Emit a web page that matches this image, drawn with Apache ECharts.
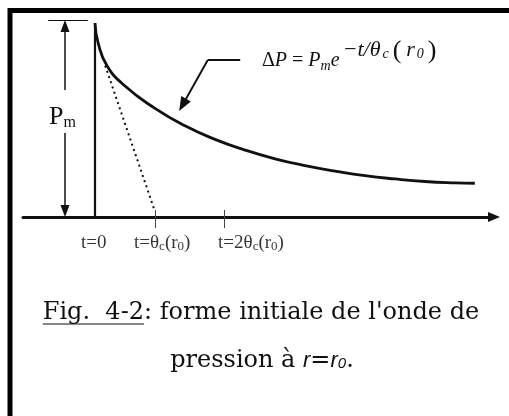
<!DOCTYPE html>
<html>
<head>
<meta charset="utf-8">
<script src="https://cdn.jsdelivr.net/npm/echarts@6/dist/echarts.min.js"></script>
<style>
  html, body { margin: 0; padding: 0; background: #fff; }
  #main { width: 509px; height: 416px; }
</style>
</head>
<body>
<div id="main"></div>
<script>
// t en unités de θc(r0), ΔP en unités de Pm
const curveT = [0, 0.05, 0.2, 0.5, 1.0, 1.5, 2.0, 2.5, 3.0, 3.5, 4.0, 4.5, 5.0, 5.5, 6.0, 6.33];
const curveP = [1.0, 0.90, 0.78, 0.675, 0.56, 0.47, 0.40, 0.345, 0.30, 0.265, 0.237, 0.213, 0.196, 0.183, 0.176, 0.174];

// tangente à l'origine (pointillés)
const tangentT = [0.17, 0.98];
const tangentP = [0.78, 0.046];

// graduations de l'axe du temps
const tickT = [1, 2.15];
const labelT = [-0.02, 1.12, 2.6];
const tickLabels = ['t=0', 't=θ{s|c}(r{s|0})', 't=2θ{s|c}(r{s|0})'];

// flèche double Pm
const pmT = -0.5;
const pmTopSeg = [0.985, 0.655];
const pmBottomSeg = [0.433, 0.031];
const pmCapT = [-0.78, -0.12];
const pmCapP = 1.015;

// flèche vers la courbe
const calloutT = [2.42, 1.88, 1.46];
const calloutP = [0.809, 0.809, 0.578];

// légende de la figure
const captionLine1 = 'Fig.  4-2: forme initiale de l\'onde de';
const captionUnderlined = 'Fig.  4-2';
const captionLine2 = 'pression à {i|r}={i|r}{o|0}.';

let chartDom = document.getElementById('main');
let myChart = echarts.init(chartDom);

let ink = '#111';

let markData = [
  // Pm : segment haut et bas avec pointes
  [{coord: [pmT, pmTopSeg[1]], symbol: 'none'}, {coord: [pmT, pmTopSeg[0]], symbol: 'triangle'}],
  [{coord: [pmT, pmBottomSeg[0]], symbol: 'none'}, {coord: [pmT, pmBottomSeg[1]], symbol: 'triangle'}],
  [{coord: [pmCapT[0], pmCapP], symbol: 'none', lineStyle: {width: 1}}, {coord: [pmCapT[1], pmCapP], symbol: 'none'}],
  // flèche de la légende
  [{coord: [calloutT[0], calloutP[0]], symbol: 'none', lineStyle: {width: 2}},
   {coord: [calloutT[1], calloutP[1]], symbol: 'none'}],
  [{coord: [calloutT[1], calloutP[1]], symbol: 'none', lineStyle: {width: 2}},
   {coord: [calloutT[2], calloutP[2]], symbol: 'triangle', symbolSize: [11, 14]}]
];
tickT.forEach(function (t) {
  markData.push([
    {coord: [t, 0.036], symbol: 'none', lineStyle: {width: 1, color: '#444'}},
    {coord: [t, -0.057], symbol: 'none'}
  ]);
});

// position du soulignement de "Fig. 4-2"
let ctx = document.createElement('canvas').getContext('2d');
ctx.font = '24px "DejaVu Serif"';
let fullW = ctx.measureText(captionLine1).width;
let underW = ctx.measureText(captionUnderlined).width;
let ulX1 = 261 - fullW / 2;

let option = {
  animation: false,
  grid: {left: 23, right: 15, top: 3.6, bottom: 160.2},
  xAxis: {
    type: 'value',
    min: -1.2,
    max: 6.65,
    axisLine: {
      show: true,
      symbol: ['none', 'triangle'],
      symbolSize: [10, 12],
      lineStyle: {color: ink, width: 3}
    },
    axisTick: {show: false},
    axisLabel: {show: false},
    splitLine: {show: false}
  },
  yAxis: {
    type: 'value',
    min: -0.2,
    max: 1.1,
    show: false
  },
  series: [
    {
      name: 'ΔP',
      type: 'line',
      data: curveT.map(function (t, i) { return [t, curveP[i]]; }),
      smooth: true,
      showSymbol: false,
      lineStyle: {color: ink, width: 2.8},
      clip: false
    },
    {
      name: 'tangente',
      type: 'line',
      data: tangentT.map(function (t, i) { return [t, tangentP[i]]; }),
      showSymbol: false,
      lineStyle: {color: ink, width: 2, type: [2, 3.5]},
      clip: false
    },
    {
      name: 't0',
      type: 'line',
      data: [[0, 0], [0, curveP[0]]],
      showSymbol: false,
      lineStyle: {color: ink, width: 2.2},
      clip: false,
      markLine: {
        silent: true,
        symbolSize: [9, 12],
        label: {show: false},
        lineStyle: {color: ink, width: 1.5, type: 'solid'},
        emphasis: {disabled: true},
        data: markData
      }
    },
    {
      name: 'labels',
      type: 'scatter',
      symbolSize: 0,
      silent: true,
      clip: false,
      data: labelT.map(function (t) { return [t, -0.134]; }),
      label: {
        show: true,
        position: 'inside',
        formatter: function (p) { return tickLabels[p.dataIndex]; },
        color: '#000',
        fontFamily: 'Liberation Serif',
        fontSize: 19,
        lineHeight: 30,
        rich: {
          s: {fontFamily: 'Liberation Serif', fontSize: 13, color: '#000', lineHeight: 30, padding: [8, 0, 0, 0]}
        }
      }
    }
  ],
  graphic: [
    {
      type: 'polyline',
      shape: {points: [[10, 416], [10, 10.5], [509, 10.5]]},
      style: {stroke: '#000', lineWidth: 5, fill: null}
    },
    {
      type: 'text',
      left: 49,
      top: 95,
      style: {
        text: 'P{m|m}',
        fill: ink,
        font: '26px "Liberation Serif"',
        lineHeight: 44,
        rich: {
          m: {fontFamily: 'Liberation Serif', fontSize: 16, lineHeight: 44, padding: [12, 0, 0, 0]}
        }
      }
    },
    {
      type: 'text',
      left: 262,
      top: 37,
      style: {
        text: '{d|Δ}{i|P} = {i|P}{sub|m}{i|e}{x|−t/θ}{xs|c}{xp|(}{x|r}{xs|0}{xp|)}',
        fill: ink,
        font: '20px "Liberation Serif"',
        lineHeight: 48,
        rich: {
          d: {fontFamily: 'Liberation Serif', fontSize: 20, lineHeight: 48},
          i: {fontFamily: 'Liberation Serif', fontStyle: 'italic', fontSize: 20, lineHeight: 48},
          sub: {fontFamily: 'Liberation Serif', fontStyle: 'italic', fontSize: 14, lineHeight: 48, padding: [10, 0, 0, 0]},
          x: {fontFamily: 'Liberation Serif', fontStyle: 'italic', fontSize: 22, lineHeight: 48, padding: [0, 2, 22, 3]},
          xs: {fontFamily: 'Liberation Serif', fontStyle: 'italic', fontSize: 14, lineHeight: 48, padding: [0, 2, 13, 0]},
          xp: {fontFamily: 'Liberation Serif', fontSize: 26, lineHeight: 48, padding: [0, 2, 19, 2]}
        }
      }
    },
    {
      type: 'text',
      x: 261,
      y: 313,
      style: {
        text: captionLine1,
        fill: ink,
        font: '24px "DejaVu Serif"',
        align: 'center',
        verticalAlign: 'middle'
      }
    },
    {
      type: 'line',
      shape: {x1: ulX1, y1: 324, x2: ulX1 + underW, y2: 324},
      style: {stroke: ink, lineWidth: 1.2}
    },
    {
      type: 'text',
      x: 262,
      y: 361,
      style: {
        text: captionLine2,
        fill: ink,
        font: '24px "DejaVu Serif"',
        align: 'center',
        verticalAlign: 'middle',
        lineHeight: 34,
        rich: {
          i: {fontFamily: 'Liberation Sans', fontStyle: 'italic', fontSize: 22, lineHeight: 34},
          o: {fontFamily: 'Liberation Sans', fontStyle: 'italic', fontSize: 15, lineHeight: 34, padding: [6, 0, 0, 0]}
        }
      }
    }
  ]
};

myChart.setOption(option);

window.addEventListener('resize', () => {
  myChart.resize();
});
</script>
</body>
</html>
